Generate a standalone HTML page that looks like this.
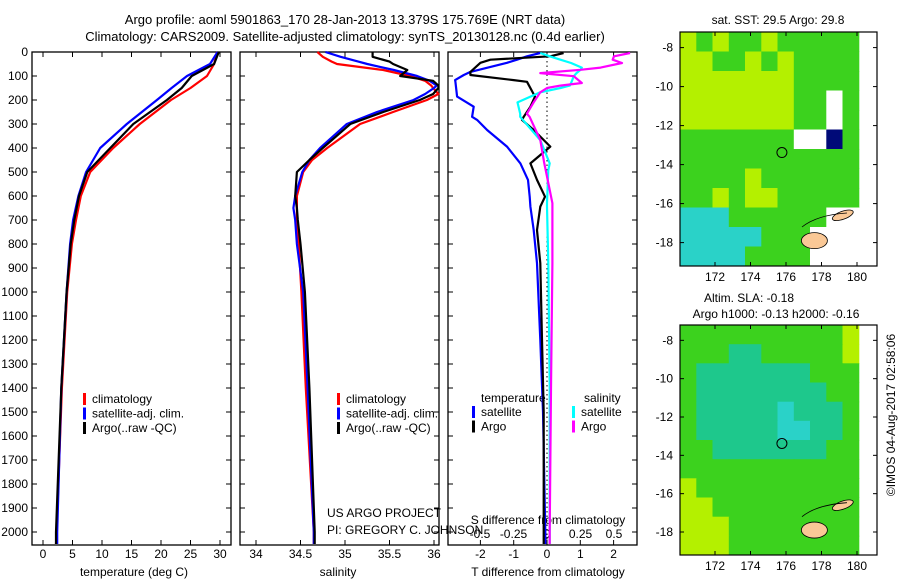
<!DOCTYPE html>
<html><head><meta charset="utf-8"><style>
body{margin:0;background:#fff;}
svg{display:block;font-family:"Liberation Sans",sans-serif;}
text{font-size:12px;fill:#000;}
</style></head><body>
<svg id="fig" width="900" height="580" viewBox="0 0 900 580" xmlns="http://www.w3.org/2000/svg">
<text x="345" y="24" text-anchor="middle" style="font-size:13px">Argo profile: aoml 5901863_170 28-Jan-2013 13.379S 175.769E (NRT data)</text>
<text x="345" y="41" text-anchor="middle" style="font-size:13px">Climatology: CARS2009. Satellite-adjusted climatology: synTS_20130128.nc (0.4d earlier)</text>
<g id="g"></g>
</svg>
<script>
// ---- data ----
const depthTemp = [0,50,100,150,200,300,400,500,600,700,800,1000,1400,2000,2050];
const tempClim = [29.5,29.0,27.8,25.0,21.7,16.4,11.9,8.0,6.4,5.6,4.9,4.1,3.2,2.3,2.2];
const tempSat  = [29.6,28.3,24.4,21.8,19.3,14.2,9.7,7.3,6.0,5.1,4.6,4.0,3.1,2.4,2.4];
const tempArgo = [29.8,29.0,25.2,23.5,21.0,15.3,11.4,7.5,6.1,5.3,4.7,4.0,3.1,2.2,2.2];

const depthSal = [0,20,40,50,75,100,120,140,150,175,200,250,300,400,450,500,600,650,700,800,1000,1400,2000,2050];
const salClim = [34.69,34.75,34.85,34.91,35.43,35.73,35.90,35.97,35.99,36.05,35.92,35.54,35.17,34.80,34.63,34.53,34.46,34.46,34.46,34.48,34.51,34.56,34.65,34.65];
const salSat  = [34.78,34.95,35.15,35.25,35.55,35.81,35.95,36.03,36.00,35.90,35.77,35.36,35.02,34.72,34.60,34.52,34.44,34.42,34.44,34.46,34.53,34.58,34.65,34.65];
const salArgo = [35.31,35.31,35.50,35.54,35.70,35.62,35.99,36.05,36.05,35.99,35.84,35.43,35.06,34.75,34.60,34.46,34.44,34.46,34.47,34.50,34.55,34.60,34.66,34.66];

const depthTd = [4,18,32,45,83,96,117,124,186,228,270,283,325,394,464,533,603,644,742,880,1200,1500,2000,2050];
const tdSat  = [-0.2,-0.6,-0.9,-1.2,-2.3,-2.5,-2.76,-2.75,-2.7,-2.2,-2.25,-2.1,-1.8,-1.2,-0.8,-0.57,-0.52,-0.5,-0.4,-0.3,-0.2,-0.12,-0.05,-0.05];
const tdArgo = [0.5,0.1,-1.7,-2.0,-2.3,-2.3,-1.0,-0.6,-0.36,-0.5,-0.7,-0.75,-0.4,0.1,-0.5,-0.3,-0.06,-0.2,-0.3,-0.2,-0.15,-0.1,-0.1,-0.1];

const depthSd = [4,18,32,46,65,74,88,101,129,140,150,168,210,257,270,367,464,492,630,644,880,1400,2000,2050];
const sdSat  = [-0.05,0.02,0.1,0.18,0.26,0.25,0.22,0.2,0.18,0.17,0.1,-0.05,-0.22,-0.2,-0.2,-0.05,0.02,0.01,0.0,0.0,0.01,0.02,0.02,0.02];
const sdArgo = [0.62,0.5,0.49,0.56,0.4,0.25,-0.05,0.2,0.26,0.1,0.0,-0.05,-0.1,-0.15,-0.13,-0.05,-0.02,-0.01,0.04,0.04,0.04,0.03,0.02,0.02];

const depthTicks = [0,100,200,300,400,500,600,700,800,900,1000,1100,1200,1300,1400,1500,1600,1700,1800,1900,2000];
const tempTicks = [0,5,10,15,20,25,30];
const salTicks = [34,34.5,35,35.5,36];
const tdTicks = [-2,-1,0,1,2];
const sdTicks = [-0.5,-0.25,0,0.25,0.5];
const sdTickLabels = ["-0.5","-0.25","0","0.25","0.5"];
const latTicks = [-8,-10,-12,-14,-16,-18];
const lonTicks = [172,174,176,178,180];

// map cell codes (rows top->bottom, 1 deg lat; cols 170.5..180.1)
const sstRows = ["YGYGGYGGGGG","YYGGYGYGGGG","YYYYYYYGGGG","YYYYYYYGGWG","YYYYYYYGGWG","GGGGGGGWWNG","GGGGGGGGGGG","GGGGYGGGGGG","GGYGYYGGGGG","CCCGGGGGGWW","CCCCCGGGWWW","CCCCGGGGWWW"];
const slaRows = ["GGGGGGGGGGY","GGGTTGGGGGY","GTTTTTTTGGG","GTTTTTTTTGG","GTTTTTCTTTG","GTTTTTCCTTG","GGTTTTTTTGG","GGGGGGGGGGG","YGGGGGGGGGG","YYGGGGGGGGG","YYYGGGGGGGG","YYYGGGGGGGG"];

// ---- helpers ----
const NS="http://www.w3.org/2000/svg";
const G=document.getElementById('g');
function mk(tag,attrs,parent){const e=document.createElementNS(NS,tag);for(const k in attrs)e.setAttribute(k,attrs[k]);(parent||G).appendChild(e);return e;}
function txt(s,x,y,anchor,parent,size){const t=mk('text',{x:x,y:y,'text-anchor':anchor||'start'},parent);if(size)t.style.fontSize=size+'px';t.textContent=s;return t;}
const yD = d => 52 + d*0.24;
const PB = 545;

function panel(name,x0,x1){
  const r=mk('rect',{x:x0,y:52,width:x1-x0,height:PB-52,fill:'none',stroke:'#000','stroke-width':1.3});
  
  
}
function xticks(ticks,fx,labY,labels,grp,top){
  ticks.forEach((t,i)=>{
    const x=fx(t);
    mk('line',{x1:x,x2:x,y1:PB,y2:PB-5,stroke:'#000'},grp);
    if(top) mk('line',{x1:x,x2:x,y1:52,y2:57,stroke:'#000'},grp);
    if(labY) txt(labels?labels[i]:String(t),x,labY,'middle',grp);
  });
}
function line(vals,depths,fx,color,name,w){
  const pts=vals.map((v,i)=>fx(v).toFixed(1)+','+yD(depths[i]).toFixed(1)).join(' ');
  const p=mk('polyline',{points:pts,fill:'none',stroke:color,'stroke-width':w||2.2,'stroke-linejoin':'round'});
  
  
}
function legend(items,x,y0,grp){
  items.forEach((it,i)=>{
    const y=y0+i*14.5;
    mk('rect',{x:x,y:y-10,width:3,height:12,fill:it[1]},grp);
    txt(it[0],x+9,y,'start',grp);
  });
}

// ---- panel 1: temperature ----
const fT = t => 43 + t*5.9;
const g1=mk('g',{});


panel('temperature-axes',32,231);
depthTicks.forEach(d=>{
  mk('line',{x1:32,x2:37,y1:yD(d),y2:yD(d),stroke:'#000'},g1);
  mk('line',{x1:226,x2:231,y1:yD(d),y2:yD(d),stroke:'#000'},g1);
  mk('line',{x1:240,x2:245,y1:yD(d),y2:yD(d),stroke:'#000'},g1);
  mk('line',{x1:434,x2:439,y1:yD(d),y2:yD(d),stroke:'#000'},g1);
  mk('line',{x1:448,x2:453,y1:yD(d),y2:yD(d),stroke:'#000'},g1);
  mk('line',{x1:632,x2:637,y1:yD(d),y2:yD(d),stroke:'#000'},g1);
  txt(String(d),28,yD(d)+4,'end',g1);
});
xticks(tempTicks,fT,558,null,g1,true);
txt('temperature (deg C)',134,576,'middle',g1);
line(tempClim,depthTemp,fT,'#f00','temp-climatology-line');
line(tempSat,depthTemp,fT,'#00f','temp-satellite-line');
line(tempArgo,depthTemp,fT,'#000','temp-argo-line');
legend([['climatology','#f00'],['satellite-adj. clim.','#00f'],['Argo(..raw -QC)','#000']],83,403,g1);

// ---- panel 2: salinity ----
const fS = s => 256 + (s-34)*89;
const g2=mk('g',{});


panel('salinity-axes',240,439);
xticks(salTicks,fS,558,null,g2,true);
txt('salinity',338,576,'middle',g2);
line(salClim,depthSal,fS,'#f00','sal-climatology-line');
line(salSat,depthSal,fS,'#00f','sal-satellite-line');
line(salArgo,depthSal,fS,'#000','sal-argo-line');
legend([['climatology','#f00'],['satellite-adj. clim.','#00f'],['Argo(..raw -QC)','#000']],337,403,g2);
txt('US ARGO PROJECT',327,517,'start',g2);
txt('PI: GREGORY C. JOHNSON',327,534,'start',g2);

// ---- panel 3: differences ----
const fTd = v => 547 + v*33.3;
const fSd = v => 547 + v*134;
const g3=mk('g',{});


panel('difference-axes',448,637);
mk('line',{x1:547,x2:547,y1:52,y2:PB,stroke:'#000','stroke-dasharray':'1.5,3'},g3);
xticks(tdTicks,fTd,558,null,g3,true);
sdTicks.forEach((t,i)=>{txt(sdTickLabels[i],fSd(t),538,'middle',g3);});
txt('S difference from climatology',548,524,'middle',g3);
txt('T difference from climatology',548,576,'middle',g3);
line(tdSat,depthTd,fTd,'#00f','tdiff-satellite-line');
line(tdArgo,depthTd,fTd,'#000','tdiff-argo-line');
line(sdSat,depthSd,fSd,'#0ff','sdiff-satellite-line');
line(sdArgo,depthSd,fSd,'#f0f','sdiff-argo-line');
txt('temperature',481,402,'start',g3);
txt('salinity',584,402,'start',g3);
legend([['satellite','#00f'],['Argo','#000']],472,416,g3);
legend([['satellite','#0ff'],['Argo','#f0f']],572,416,g3);

// ---- maps ----
const colors={Y:'#b4f000',G:'#3cd21e',T:'#1ec88c',C:'#2ad2c8',W:'#ffffff',N:'#000a78'};
function mapPanel(name,top,bot,rows,title1,title2){
  const x0=680,x1=877;
  const fLon = l => 715 + (l-172)*17.75;
  const lat0=-8, yTop=top, yBot=bot;
  const pxLat=(yBot-yTop)/(19.2-7.2);
  const fLat = l => yTop + (-7.2 - l)*pxLat;
  const g=mk('g',{});
  
  
  const nc=rows[0].length, nr=rows.length;
  const cw=(fLon(180.1)-x0)/nc, ch=(yBot-yTop)/nr;
  rows.forEach((row,r)=>{
    for(let c=0;c<nc;c++){
      const cell=mk('rect',{x:(x0+c*cw).toFixed(1),y:(yTop+r*ch).toFixed(1),width:(cw+0.5).toFixed(1),height:(ch+0.5).toFixed(1),fill:colors[row[c]]},g);
      
      
    }
  });
  // islands
  const cx=fLon(177.6),cy=fLat(-17.9);
  mk('ellipse',{cx:cx,cy:cy,rx:13,ry:8,fill:'#fac896',stroke:'#000','stroke-width':0.8},g);
  mk('ellipse',{cx:fLon(179.2),cy:fLat(-16.6),rx:11,ry:4,fill:'#fac896',stroke:'#000','stroke-width':0.8,transform:'rotate(-20 '+fLon(179.2)+' '+fLat(-16.6)+')'},g);
  mk('path',{d:'M'+fLon(176.9)+' '+fLat(-17.2)+' q15 -12 45 -14',fill:'none',stroke:'#000','stroke-width':0.8},g);
  mk('rect',{x:x0,y:yTop,width:x1-x0,height:yBot-yTop,fill:'none',stroke:'#000','stroke-width':1.2},g);
  const ring=mk('circle',{cx:fLon(175.77),cy:fLat(-13.38),r:5,fill:'none',stroke:'#000','stroke-width':1},g);
  
  
  latTicks.forEach(l=>{
    const y=fLat(l);
    mk('line',{x1:x0,x2:x0+4,y1:y,y2:y,stroke:'#000'},g);
    mk('line',{x1:x1-4,x2:x1,y1:y,y2:y,stroke:'#000'},g);
    txt(String(l).replace('-','-'),673,y+4,'end',g);
  });
  lonTicks.forEach(l=>{
    const x=fLon(l);
    mk('line',{x1:x,x2:x,y1:yTop,y2:yTop+4,stroke:'#000'},g);
    mk('line',{x1:x,x2:x,y1:yBot,y2:yBot-4,stroke:'#000'},g);
    txt(String(l),x,yBot+15,'middle',g);
  });
  return g;
}
const m1=mapPanel('sst-map',32,266,sstRows);
txt('sat. SST: 29.5 Argo: 29.8',778,24,'middle',m1);
const m2=mapPanel('sla-map',325,555,slaRows);
txt('Altim. SLA: -0.18',749,302,'middle',m2);
txt('Argo h1000: -0.13 h2000: -0.16',776,318,'middle',m2);
const cp=txt('©IMOS 04-Aug-2017 02:58:06',0,0,'middle');
cp.setAttribute('transform','translate(895,415) rotate(-90)');


</script>
</body></html>
